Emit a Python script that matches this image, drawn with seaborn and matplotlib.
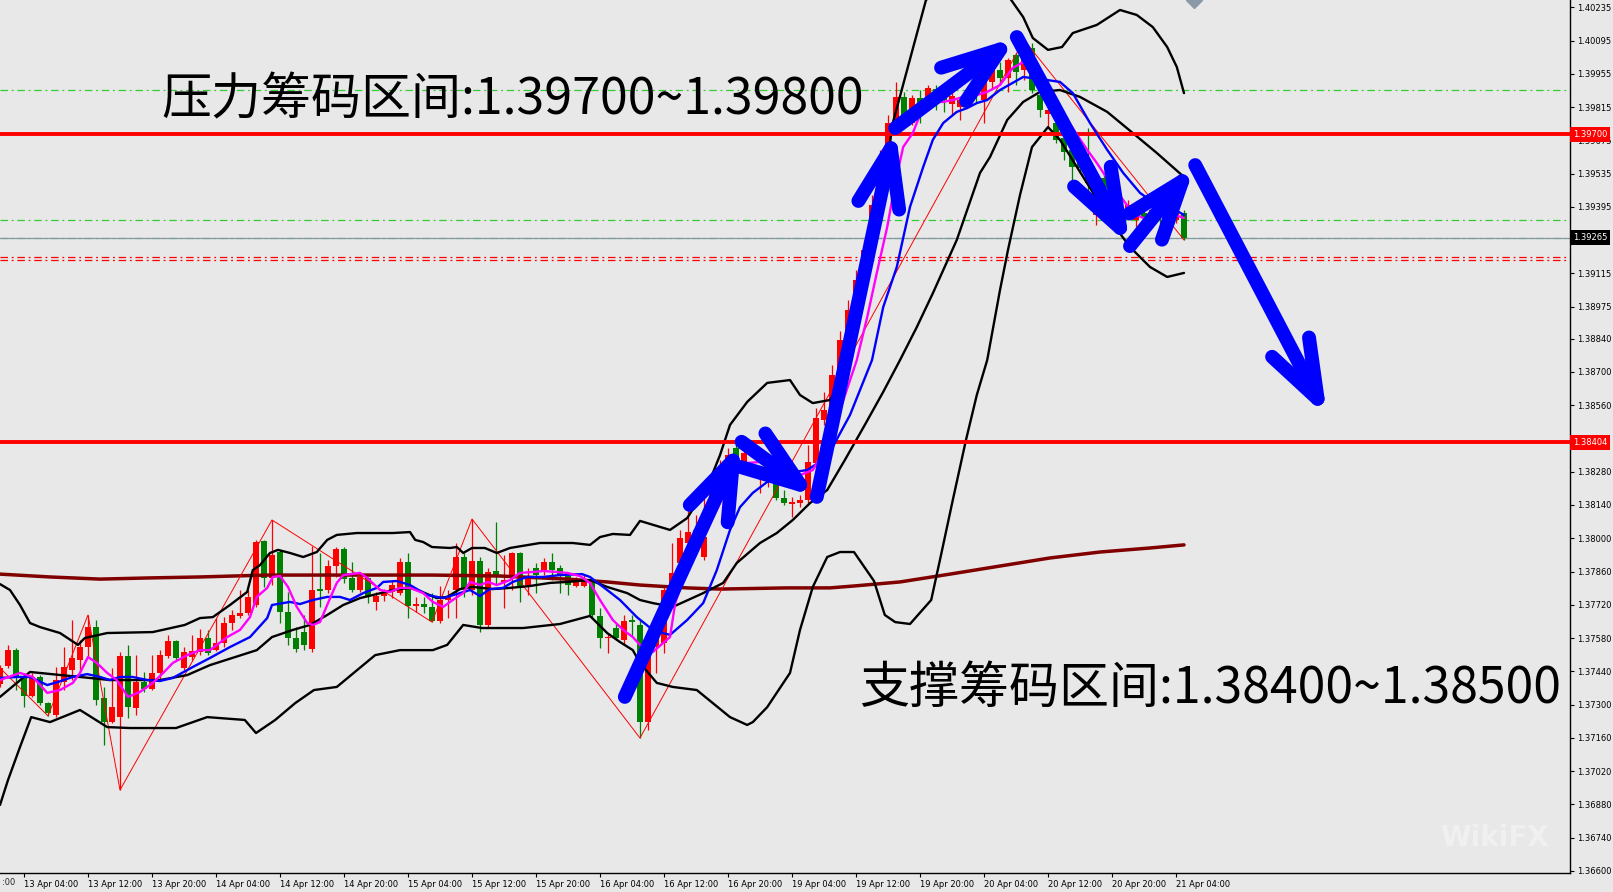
import numpy as np
import pandas as pd
import seaborn as sns
import matplotlib.pyplot as plt
import matplotlib.transforms as mtransforms

# H1 candles, bar 0 = 13 Apr 01:00 (weekend skipped)
opens = [1.37386, 1.37462, 1.37529, 1.37412, 1.37336, 1.37416, 1.37306, 1.37256, 1.37395, 1.37445,
         1.37487, 1.37542, 1.37626, 1.37327, 1.37226, 1.37247, 1.37504, 1.37285, 1.37395, 1.37365,
         1.37433, 1.37504, 1.37567, 1.37454, 1.37500, 1.37521, 1.37580, 1.37529, 1.37559, 1.37643,
         1.37673, 1.37685, 1.37719, 1.37988, 1.37833, 1.37942, 1.37689, 1.37580, 1.37605, 1.37534,
         1.37786, 1.37782, 1.37883, 1.37955, 1.37833, 1.37782, 1.37833, 1.37732, 1.37757, 1.37774,
         1.37769, 1.37900, 1.37715, 1.37723, 1.37711, 1.37652, 1.37740, 1.37782, 1.37921, 1.37782,
         1.37904, 1.37635, 1.37862, 1.37816, 1.37837, 1.37938, 1.37803, 1.37875, 1.37866, 1.37900,
         1.37875, 1.37841, 1.37799, 1.37799, 1.37812, 1.37673, 1.37580, 1.37622, 1.37572, 1.37656,
         1.37635, 1.37226, 1.37542, 1.37559, 1.37753, 1.37896, 1.37980, 1.37972, 1.37921, 1.38148,
         1.38224, 1.38287, 1.38380, 1.38300, 1.38401, 1.38266, 1.38275, 1.38258, 1.38170, 1.38144,
         1.38148, 1.38161, 1.38317, 1.38498, 1.38540, 1.38687, 1.38835, 1.38961, 1.39087, 1.39214,
         1.39403, 1.39563, 1.39748, 1.39858, 1.39748, 1.39853, 1.39816, 1.39891, 1.39874, 1.39828,
         1.39816, 1.39879, 1.39908, 1.39845, 1.39921, 1.39971, 1.39938, 1.40034, 1.39971, 1.40064,
         1.39866, 1.39786, 1.39748, 1.39685, 1.39635, 1.39580, 1.39592, 1.39361, 1.39517, 1.39475,
         1.39403, 1.39382, 1.39340, 1.39369, 1.39361, 1.39357, 1.39352, 1.39340, 1.39369]
highs = [1.37466, 1.37551, 1.37538, 1.37433, 1.37433, 1.37424, 1.37311, 1.37458, 1.37542, 1.37656,
         1.37572, 1.37677, 1.37656, 1.37374, 1.37454, 1.37521, 1.37551, 1.37508, 1.37437, 1.37508,
         1.37529, 1.37593, 1.37572, 1.37542, 1.37593, 1.37618, 1.37614, 1.37664, 1.37668, 1.37698,
         1.37782, 1.37782, 1.37993, 1.37993, 1.38077, 1.37951, 1.37774, 1.37626, 1.37677, 1.37967,
         1.37938, 1.37908, 1.37963, 1.37963, 1.37900, 1.37845, 1.37837, 1.37774, 1.37786, 1.37824,
         1.37917, 1.37938, 1.37753, 1.37753, 1.37769, 1.37799, 1.37782, 1.37980, 1.37938, 1.38081,
         1.37921, 1.37875, 1.38068, 1.37929, 1.37942, 1.37942, 1.37875, 1.37896, 1.37917, 1.37938,
         1.37887, 1.37858, 1.37837, 1.37845, 1.37816, 1.37706, 1.37597, 1.37643, 1.37677, 1.37677,
         1.37656, 1.37572, 1.37614, 1.37803, 1.37980, 1.38035, 1.38148, 1.38098, 1.38174, 1.38254,
         1.38329, 1.38380, 1.38414, 1.38384, 1.38414, 1.38300, 1.38338, 1.38275, 1.38203, 1.38174,
         1.38182, 1.38391, 1.38548, 1.38616, 1.38729, 1.38873, 1.39003, 1.39129, 1.39256, 1.39445,
         1.39635, 1.39782, 1.39921, 1.39879, 1.39866, 1.39887, 1.39908, 1.39908, 1.39896, 1.39887,
         1.39858, 1.39908, 1.39921, 1.39938, 1.39988, 1.40005, 1.40022, 1.40043, 1.40098, 1.40085,
         1.39874, 1.39845, 1.39761, 1.39727, 1.39647, 1.39601, 1.39727, 1.39529, 1.39538, 1.39487,
         1.39458, 1.39424, 1.39411, 1.39424, 1.39403, 1.39382, 1.39411, 1.39395, 1.39382]
lows = [1.37374, 1.37454, 1.37361, 1.37290, 1.37332, 1.37298, 1.37252, 1.37247, 1.37361, 1.37403,
        1.37433, 1.37500, 1.37298, 1.37130, 1.37222, 1.36940, 1.37243, 1.37256, 1.37353, 1.37361,
        1.37403, 1.37496, 1.37487, 1.37445, 1.37487, 1.37508, 1.37508, 1.37525, 1.37542, 1.37614,
        1.37664, 1.37677, 1.37711, 1.37795, 1.37803, 1.37643, 1.37551, 1.37521, 1.37529, 1.37521,
        1.37711, 1.37769, 1.37837, 1.37812, 1.37774, 1.37774, 1.37727, 1.37698, 1.37736, 1.37748,
        1.37761, 1.37664, 1.37689, 1.37685, 1.37647, 1.37643, 1.37664, 1.37664, 1.37753, 1.37761,
        1.37605, 1.37622, 1.37803, 1.37706, 1.37782, 1.37732, 1.37761, 1.37769, 1.37845, 1.37824,
        1.37769, 1.37761, 1.37795, 1.37795, 1.37664, 1.37538, 1.37517, 1.37572, 1.37555, 1.37584,
        1.37159, 1.37193, 1.37433, 1.37517, 1.37740, 1.37866, 1.37866, 1.37951, 1.37908, 1.38127,
        1.38203, 1.38266, 1.38308, 1.38287, 1.38342, 1.38191, 1.38216, 1.38161, 1.38140, 1.38090,
        1.38131, 1.38148, 1.38300, 1.38477, 1.38519, 1.38666, 1.38792, 1.38919, 1.39045, 1.39193,
        1.39382, 1.39529, 1.39740, 1.39740, 1.39740, 1.39748, 1.39803, 1.39803, 1.39795, 1.39782,
        1.39761, 1.39824, 1.39837, 1.39748, 1.39896, 1.39921, 1.39879, 1.39908, 1.39929, 1.39874,
        1.39773, 1.39731, 1.39664, 1.39592, 1.39479, 1.39538, 1.39437, 1.39319, 1.39453, 1.39403,
        1.39361, 1.39369, 1.39310, 1.39310, 1.39331, 1.39306, 1.39340, 1.39327, 1.39256]
closes = [1.37454, 1.37529, 1.37416, 1.37336, 1.37416, 1.37306, 1.37264, 1.37403, 1.37458, 1.37496,
          1.37542, 1.37626, 1.37319, 1.37226, 1.37290, 1.37504, 1.37290, 1.37395, 1.37365, 1.37433,
          1.37508, 1.37567, 1.37496, 1.37521, 1.37525, 1.37580, 1.37517, 1.37559, 1.37643, 1.37677,
          1.37685, 1.37753, 1.37984, 1.37833, 1.37929, 1.37689, 1.37580, 1.37534, 1.37551, 1.37782,
          1.37778, 1.37883, 1.37955, 1.37828, 1.37782, 1.37837, 1.37757, 1.37757, 1.37774, 1.37803,
          1.37900, 1.37715, 1.37723, 1.37711, 1.37652, 1.37740, 1.37753, 1.37921, 1.37791, 1.37904,
          1.37635, 1.37858, 1.37845, 1.37824, 1.37938, 1.37791, 1.37828, 1.37845, 1.37900, 1.37866,
          1.37845, 1.37803, 1.37828, 1.37828, 1.37677, 1.37580, 1.37584, 1.37580, 1.37652, 1.37647,
          1.37226, 1.37559, 1.37584, 1.37782, 1.37854, 1.38001, 1.38026, 1.38035, 1.38005, 1.38233,
          1.38296, 1.38350, 1.38329, 1.38359, 1.38384, 1.38275, 1.38321, 1.38170, 1.38148, 1.38152,
          1.38161, 1.38321, 1.38506, 1.38540, 1.38687, 1.38835, 1.38961, 1.39087, 1.39214, 1.39403,
          1.39563, 1.39748, 1.39858, 1.39752, 1.39853, 1.39811, 1.39896, 1.39874, 1.39845, 1.39862,
          1.39845, 1.39845, 1.39866, 1.39929, 1.39971, 1.39938, 1.40013, 1.39963, 1.40056, 1.39887,
          1.39803, 1.39803, 1.39677, 1.39626, 1.39563, 1.39559, 1.39496, 1.39508, 1.39475, 1.39424,
          1.39432, 1.39403, 1.39382, 1.39348, 1.39382, 1.39348, 1.39395, 1.39369, 1.39265]

time_labels = ['13 Apr 04:00', '13 Apr 12:00', '13 Apr 20:00', '14 Apr 04:00', '14 Apr 12:00',
               '14 Apr 20:00', '15 Apr 04:00', '15 Apr 12:00', '15 Apr 20:00', '16 Apr 04:00',
               '16 Apr 12:00', '16 Apr 20:00', '19 Apr 04:00', '19 Apr 12:00', '19 Apr 20:00',
               '20 Apr 04:00', '20 Apr 12:00', '20 Apr 20:00', '21 Apr 04:00']
price_ticks = [1.40235, 1.40095, 1.39955, 1.39815, 1.39675, 1.39535, 1.39395, 1.39255, 1.39115,
               1.38975, 1.38840, 1.38700, 1.38560, 1.38420, 1.38280, 1.38140, 1.38000, 1.37860,
               1.37720, 1.37580, 1.37440, 1.37300, 1.37160, 1.37020, 1.36880, 1.36740, 1.36600]
hidden_ticks = [1.39255, 1.38420]  # covered by the price tags

# indicator lines: (bar, price) vertices
bb_up_x = [0, 1.25, 2.5, 3.75, 5, 7.5, 9.75, 10.6, 13.4, 19.1, 23.1, 25, 26.6, 28.75, 30.9, 31.6,
           32.5, 33.75, 34.75, 36.25, 37.9, 39.6, 40.9, 42.1, 44.6, 49.1, 51.25, 51.9, 52.9, 54,
           56.25, 57.1, 57.9, 59, 60.6, 62.1, 63.75, 67.5, 71.6, 73.75, 75, 76.6, 78.75, 80, 83.75,
           85.9, 87.1, 88.75, 90, 91.25, 93.4, 95.9, 98.75, 100, 101.6, 103.75, 105, 106.9, 108.75,
           110.4, 111.6, 114.4, 115.75, 118.75, 123.1, 126.4, 127.9, 129.1, 131, 132.75, 134.1,
           137.1, 140, 142.1, 144.1, 145.9, 147.1, 148]
bb_up_y = [1.37807, 1.37782, 1.37719, 1.37643, 1.37626, 1.37601, 1.37551, 1.37580, 1.37601, 1.37605,
           1.37635, 1.37664, 1.37668, 1.37719, 1.37774, 1.37866, 1.37887, 1.37938, 1.37951, 1.37938,
           1.37921, 1.37942, 1.37993, 1.38014, 1.38022, 1.38022, 1.38026, 1.37993, 1.37984, 1.37963,
           1.37959, 1.37963, 1.37938, 1.37959, 1.37959, 1.37938, 1.37959, 1.37980, 1.37980, 1.37972,
           1.38005, 1.38018, 1.38014, 1.38073, 1.38035, 1.38085, 1.38148, 1.38245, 1.38350, 1.38477,
           1.38574, 1.38654, 1.38666, 1.38603, 1.38569, 1.38582, 1.38645, 1.38835, 1.39129, 1.39466,
           1.39748, 1.40098, 1.40266, 1.40342, 1.40434, 1.40266, 1.40194, 1.40106, 1.40056, 1.40068,
           1.40127, 1.40161, 1.40224, 1.40203, 1.40152, 1.40068, 1.39984, 1.39874]
bb_mid_x = [0, 3.75, 10, 13.75, 20, 23.4, 26.25, 32.1, 34, 36.6, 38.75, 40.9, 42.9, 45, 47.1, 49.1,
            51.25, 52.5, 54.6, 55.9, 57.5, 59.1, 61.6, 63.75, 66.25, 68.75, 70.9, 73.75, 75.9, 78.4,
            80, 81.6, 84.1, 87.9, 90.4, 92.1, 95, 97.1, 99.1, 101.25, 103.4, 105.6, 108.1, 110.4,
            112.5, 114.6, 116.6, 119.6, 122.5, 123.75, 125.9, 127.9, 130, 132.5, 135, 138.4, 141.6,
            144.6, 148]
bb_mid_y = [1.37332, 1.37437, 1.37416, 1.37403, 1.37403, 1.37424, 1.37466, 1.37529, 1.37584, 1.37614,
            1.37635, 1.37677, 1.37719, 1.37748, 1.37765, 1.37782, 1.37791, 1.37778, 1.37748, 1.37753,
            1.37786, 1.37795, 1.37786, 1.37791, 1.37799, 1.37812, 1.37816, 1.37824, 1.37795, 1.37769,
            1.37740, 1.37727, 1.37711, 1.37769, 1.37812, 1.37896, 1.37980, 1.38022, 1.38077, 1.38148,
            1.38203, 1.38329, 1.38477, 1.38616, 1.38750, 1.38889, 1.39031, 1.39256, 1.39538, 1.39605,
            1.39761, 1.39837, 1.39879, 1.39887, 1.39858, 1.39795, 1.39706, 1.39622, 1.39521]
bb_lo_x = [0, 1, 2.5, 3.9, 6.25, 10, 13.4, 16.25, 22, 25.9, 30.6, 32, 34.4, 36.9, 39.25, 42.1, 46.9,
           50, 54.1, 55.9, 57.9, 60.25, 65.4, 70, 73.75, 75.9, 77.5, 79.1, 80, 82.1, 84.1, 87.1,
           89.1, 91.25, 93.4, 94.1, 95.9, 98.75, 100, 101.6, 103.4, 105, 106.75, 109.25, 110.6,
           111.9, 113.75, 116.4, 117.6, 119.1, 120.75, 122.1, 123.4, 125, 126, 127.5, 129, 131,
           132.5, 136.25, 138.75, 141.25, 143.75, 145.9, 148]
bb_lo_y = [1.36877, 1.36982, 1.37121, 1.37247, 1.37226, 1.37277, 1.37205, 1.37201, 1.37201, 1.37247,
           1.37235, 1.37180, 1.37235, 1.37306, 1.37361, 1.37374, 1.37508, 1.37529, 1.37529, 1.37551,
           1.37635, 1.37622, 1.37622, 1.37639, 1.37673, 1.37601, 1.37563, 1.37529, 1.37475, 1.37391,
           1.37374, 1.37361, 1.37306, 1.37247, 1.37214, 1.37226, 1.37289, 1.37433, 1.37614, 1.37795,
           1.37921, 1.37942, 1.37942, 1.37820, 1.37677, 1.37647, 1.37639, 1.37740, 1.37925, 1.38161,
           1.38414, 1.38603, 1.38750, 1.39045, 1.39214, 1.39445, 1.39647, 1.39731, 1.39677, 1.39475,
           1.39340, 1.39226, 1.39142, 1.39100, 1.39117]
blue_x = [0, 2.1, 3.75, 5.9, 7.25, 9.1, 10.9, 12.5, 13.75, 15, 16.6, 18.4, 20, 21.6, 22.75, 24.1,
          26.25, 28.75, 31.25, 33.4, 34, 36.25, 37.5, 39.1, 40.9, 42.5, 43.75, 45.4, 47.1, 47.9,
          49.6, 51.25, 53.4, 55.4, 57.1, 58.75, 60, 61.25, 62.9, 64.1, 65.9, 67.9, 70, 72.75, 73.75,
          75.9, 77.5, 79.6, 81.6, 83.75, 85.9, 87.9, 89.6, 91.25, 92.5, 94.1, 95.9, 98.4, 100.9,
          103.4, 106.25, 109, 110.4, 112.1, 113.75, 115.4, 116.6, 117.9, 119.6, 120.9, 122.1, 123.4,
          125, 127.9, 130.9, 132.5, 134.1, 136.25, 138.4, 140.4, 142.5, 144.6, 146.25, 148]
blue_y = [1.37412, 1.37416, 1.37416, 1.37382, 1.37395, 1.37416, 1.37428, 1.37416, 1.37403, 1.37416,
          1.37416, 1.37403, 1.37399, 1.37412, 1.37433, 1.37458, 1.37496, 1.37542, 1.37584, 1.37664,
          1.37719, 1.37732, 1.37723, 1.37740, 1.37753, 1.37753, 1.37740, 1.37769, 1.37791, 1.37816,
          1.37820, 1.37803, 1.37761, 1.37748, 1.37765, 1.37782, 1.37757, 1.37786, 1.37791, 1.37816,
          1.37837, 1.37837, 1.37845, 1.37849, 1.37837, 1.37782, 1.37740, 1.37668, 1.37614, 1.37593,
          1.37656, 1.37727, 1.37866, 1.38035, 1.38131, 1.38191, 1.38237, 1.38275, 1.38287, 1.38342,
          1.38519, 1.38750, 1.38973, 1.39142, 1.39395, 1.39563, 1.39677, 1.39748, 1.39795, 1.39811,
          1.39832, 1.39845, 1.39887, 1.39942, 1.39929, 1.39921, 1.39874, 1.39748, 1.39635, 1.39538,
          1.39454, 1.39403, 1.39395, 1.39361]
mag_x = [0, 2.5, 4.1, 5.9, 7.5, 9.1, 10, 11, 12.1, 13.4, 14.6, 16, 17.5, 19.1, 20.4, 21.6, 23.4, 25,
         26.25, 28.4, 30, 31.25, 32.1, 33.4, 34.1, 35, 36, 37.1, 38.4, 39.1, 40, 41, 42.1, 42.9, 45,
         45.9, 47.5, 48.75, 50, 51.25, 52.9, 54.1, 55.4, 56.6, 57.9, 58.75, 60, 61, 62.1, 63.75, 65,
         66.6, 67.9, 69.6, 70.9, 72.5, 73.75, 75, 76.6, 77.9, 79.1, 80, 81.6, 83.75, 84.4, 85.4,
         86.6, 88.4, 90, 91.6, 93.4, 95, 97.5, 100, 101.6, 103.4, 105, 107.1, 108.4, 109.6, 110.9,
         111.9, 112.9, 114.1, 115.4, 116.6, 117.9, 119.1, 120.4, 122.1, 123.4, 125, 126.6, 127.9,
         129.4, 131.25, 133.4, 135.9, 137.1, 138.75, 140.4, 141.6, 143.4, 145, 146.25, 148]
mag_y = [1.37403, 1.37433, 1.37416, 1.37349, 1.37361, 1.37391, 1.37433, 1.37500, 1.37475, 1.37433,
         1.37403, 1.37332, 1.37353, 1.37391, 1.37433, 1.37475, 1.37508, 1.37529, 1.37529, 1.37584,
         1.37614, 1.37668, 1.37753, 1.37791, 1.37837, 1.37841, 1.37795, 1.37711, 1.37643, 1.37635,
         1.37647, 1.37727, 1.37812, 1.37845, 1.37854, 1.37833, 1.37782, 1.37774, 1.37791, 1.37791,
         1.37769, 1.37732, 1.37711, 1.37740, 1.37769, 1.37816, 1.37803, 1.37816, 1.37803, 1.37824,
         1.37854, 1.37858, 1.37862, 1.37858, 1.37854, 1.37841, 1.37812, 1.37740, 1.37656, 1.37614,
         1.37584, 1.37551, 1.37521, 1.37584, 1.37727, 1.37824, 1.37921, 1.38035, 1.38148, 1.38258,
         1.38317, 1.38321, 1.38296, 1.38266, 1.38287, 1.38393, 1.38540, 1.38750, 1.38931, 1.39117,
         1.39310, 1.39496, 1.39647, 1.39706, 1.39816, 1.39837, 1.39837, 1.39845, 1.39858, 1.39866,
         1.39879, 1.39908, 1.39980, 1.40005, 1.39950, 1.39858, 1.39761, 1.39635, 1.39580, 1.39496,
         1.39424, 1.39369, 1.39340, 1.39352, 1.39369, 1.39348]
ma200_x = [0, 6.25, 12.5, 18.75, 25, 33.4, 45.9, 54.1, 62.5, 70.9, 75.9, 80, 85.9, 90, 98.4, 103.75,
           106.75, 112.5, 118.75, 125, 131.25, 137.5, 143.75, 148]
ma200_y = [1.37849, 1.37837, 1.37828, 1.37833, 1.37837, 1.37845, 1.37845, 1.37845, 1.37841, 1.37828,
           1.37816, 1.37803, 1.37791, 1.37786, 1.37791, 1.37791, 1.37799, 1.37816, 1.37849, 1.37883,
           1.37917, 1.37942, 1.37959, 1.37972]
zig_x = [0, 6, 11, 15, 34, 54, 59, 80, 128, 148]
zig_y = [1.37454, 1.37252, 1.37677, 1.36940, 1.38077, 1.37647, 1.38081, 1.37159, 1.40098, 1.39256]

# hand drawn arrow path
arrow_x = [78.1, 92.7, 102.1, 111.9, 127.1, 141.25, 149.4, 165.9]
arrow_y = [1.37332, 1.38406, 1.38174, 1.39727, 1.40110, 1.39230, 1.39571, 1.38510]

zone_levels = [1.39700, 1.38404]
green_levels = [1.39887, 1.39340, 1.39262]
red_dash_levels = [1.39184, 1.39171]
bid = 1.39265

resist_text = '压力筹码区间:1.39700~1.39800'
support_text = '支撑筹码区间:1.38400~1.38500'

sns.set_theme(style='white')
plt.rcParams['font.family'] = ['DejaVu Sans']
bg = '#e8e8e8'

fig = plt.figure(figsize=(16.13, 8.92), dpi=100, facecolor=bg)
ax = fig.add_axes([0, 19 / 892, 1570 / 1613, 873 / 892])
ax.set_facecolor(bg)

# candles (red = up, green = down)
df = pd.DataFrame({'open': opens, 'high': highs, 'low': lows, 'close': closes})
df['bar'] = np.arange(len(df))
cols = np.where(df['close'] >= df['open'], '#ff0000', '#008000')
ax.vlines(df['bar'], df['low'], df['high'], colors=cols, lw=0.9, zorder=2)
body_lo = np.minimum(df['open'], df['close'])
body_h = np.maximum((df['close'] - df['open']).abs(), 0.00003)
ax.bar(df['bar'], body_h, bottom=body_lo, width=0.65, color=cols, lw=0, zorder=3)


def line(xs, ys, color, lw, z):
    sns.lineplot(x=xs, y=ys, sort=False, estimator=None, color=color,
                 linewidth=lw, ax=ax, zorder=z, legend=False)


line(ma200_x, ma200_y, '#800000', 2.5, 4)
line(zig_x, zig_y, '#ff0000', 0.7, 4)
line(bb_up_x, bb_up_y, 'black', 1.7, 5)
line(bb_mid_x, bb_mid_y, 'black', 1.7, 5)
line(bb_lo_x, bb_lo_y, 'black', 1.7, 5)
line(blue_x, blue_y, '#0000ff', 1.7, 6)
line(mag_x, mag_y, '#ff00ff', 1.7, 6)

for lv in zone_levels:
    ax.axhline(lv, color='#ff0000', lw=2.8, zorder=5)
for lv in green_levels:
    ax.axhline(lv, color='#33cc33', lw=0.9, dashes=(6, 3, 1.5, 3), zorder=1)
for lv in red_dash_levels:
    ax.axhline(lv, color='#ff0000', lw=0.9, dashes=(6, 3, 1.5, 3), zorder=1)
ax.axhline(bid, color='#8796a5', lw=0.9, zorder=1)

for k in range(len(arrow_x) - 1):
    ax.annotate('', xy=(arrow_x[k + 1], arrow_y[k + 1]), xytext=(arrow_x[k], arrow_y[k]),
                arrowprops=dict(arrowstyle='->,head_length=42,head_width=15', color='#0000ff',
                                lw=10, mutation_scale=1, shrinkA=0, shrinkB=0,
                                capstyle='round', joinstyle='round'),
                annotation_clip=False, zorder=8)

cjk = ['Noto Sans CJK SC', 'DejaVu Sans']
ax.text(0.1025, 0.885, resist_text, transform=ax.transAxes, fontsize=36, family=cjk,
        va='center', ha='left', color='black', zorder=10)
ax.text(0.547, 0.211, support_text, transform=ax.transAxes, fontsize=36, family=cjk,
        va='center', ha='left', color='black', zorder=10)

ax.set_xlim(0, 196.25)
ax.set_ylim(1.365907, 1.40266)

ax.set_xticks([3 + 8 * k for k in range(len(time_labels))])
ax.set_xticklabels(time_labels, fontsize=6, ha='left')
ax.yaxis.tick_right()
ax.set_yticks(price_ticks)
ax.set_yticklabels(['' if p in hidden_ticks else f'{p:.5f}' for p in price_ticks], fontsize=6)
ax.tick_params(axis='x', bottom=True, length=3, width=0.8, pad=2, direction='out', colors='black')
ax.tick_params(axis='y', right=True, left=False, length=3, width=0.8, pad=2, direction='out',
               colors='black')
ax.set_xlabel('')
ax.set_ylabel('')
for s in ['top', 'left']:
    ax.spines[s].set_visible(False)
for s in ['right', 'bottom']:
    ax.spines[s].set_color('black')
    ax.spines[s].set_linewidth(1)

# tail of the previous time label, cut by the left edge
off = mtransforms.offset_copy(ax.get_xaxis_transform(), fig=fig, x=0, y=-5, units='dots')
ax.text(0.2, 0, ':00', transform=off, fontsize=6, ha='left', va='top', clip_on=False)

# price tags on the scale
ytr = mtransforms.blended_transform_factory(ax.transAxes, ax.transData)
for lv, fc in [(1.39700, '#ff0000'), (1.38404, '#ff0000'), (bid, '#000000')]:
    ax.text(1.002, lv, f'{lv:.5f}', transform=ytr, fontsize=6, color='white', ha='left',
            va='center', clip_on=False, zorder=12,
            bbox=dict(boxstyle='square,pad=0.35', fc=fc, ec='none'))

ax.plot([149.2], [1.40266], marker='D', ms=8, color='#8a98a8', zorder=9, clip_on=True)
fig.text(1440 / 1613, 1 - 838 / 892, 'WikiFX', color='white', alpha=0.35, fontsize=20,
         weight='bold', ha='left', va='center')

fig.savefig('out.png', dpi=100, facecolor=bg)
